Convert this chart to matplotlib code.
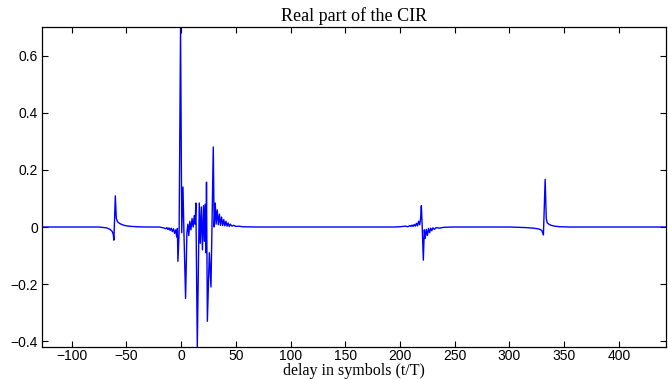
import numpy as np
import matplotlib
matplotlib.use('Agg')
import matplotlib.pyplot as plt

# vertices of the real part of the CIR (delay in symbols, value)
cir_delay = [-127, -75, -68, -65, -63, -62, -61.4, -60.1, -59.2, -58, -56, -53, -50, -45, -38, -30,
             -20, -16, -14, -13, -12, -11, -10, -9, -8, -7, -6, -5, -4, -3.4, -2.9, -1.8, -0.5,
             0.6, 1.7, 2.6, 4.1, 5.3, 6.2, 7.0, 8, 9, 10, 11, 12, 12.8, 13.5, 14.8, 16.6, 17.5,
             18.5, 19.5, 20.5, 21.3, 22, 22.8, 23.2, 24, 25.8, 27.3, 29.4, 30.2, 31.2, 32, 33,
             34, 35, 36, 37, 38, 39, 40, 41, 42, 43, 44, 45, 46.5, 48, 50, 53, 56, 60, 70,
             150, 195, 200, 205, 207, 209, 210, 211, 212, 213, 214, 215, 216, 217, 218, 218.8,
             219.5, 220.3, 221.3, 222.2, 223, 224, 225, 226, 227, 228, 229, 230, 231.5, 233,
             236, 240, 248,
             260, 300, 315, 322, 327, 329.5, 331, 332.6, 333.6, 334.5, 336, 338, 341, 346, 355, 443]
cir_real = [0, 0, -0.003, -0.008, -0.015, -0.025, -0.046, 0.109, 0.03, 0.018, 0.012, 0.007, 0.004, 0.002, 0.0005, 0,
            0, -0.003, -0.006, -0.002, -0.009, -0.003, -0.012, -0.004, -0.016, -0.006, -0.022, -0.01, -0.035, -0.005, -0.12, -0.02, 0.70,
            -0.02, 0.14, -0.02, -0.25, -0.02, 0.01, -0.03, 0.02, -0.01, 0.03, 0.0, 0.04, 0.01, 0.084, -0.42, 0.084, -0.057,
            0.07, -0.08, 0.075, -0.05, 0.08, -0.09, 0.157, -0.33, -0.09, -0.21, 0.28, 0.0, 0.084, 0.01, 0.06,
            0.008, 0.045, 0.006, 0.035, 0.005, 0.026, 0.004, 0.02, 0.003, 0.014, 0.002, 0.01, 0.003, 0.006, 0.002, 0.003, 0.001, 0.0005, 0,
            0, 0, 0.001, 0.003, 0.001, 0.005, 0.002, 0.007, 0.002, 0.009, 0.003, 0.013, 0.004, 0.02, 0.008, 0.03,
            0.075, 0.0, -0.116, -0.01, -0.04, -0.008, -0.03, -0.005, -0.02, -0.004, -0.013, -0.003, -0.008, -0.002,
            -0.004, -0.001, 0,
            0, 0, -0.002, -0.004, -0.007, -0.012, -0.028, 0.167, 0.03, 0.015, 0.01, 0.006, 0.003, 0.001, 0, 0]

x_ticks = [-100, -50, 0, 50, 100, 150, 200, 250, 300, 350, 400]
y_ticks = [-0.4, -0.2, 0, 0.2, 0.4, 0.6]
y_ticklabels = ['\u22120.4', '\u22120.2', '0', '0.2', '0.4', '0.6']

fig = plt.figure(figsize=(6.68, 3.79), dpi=100)
ax = fig.add_axes([0.063, 0.0844, 0.934, 0.8443])

ax.plot(np.array(cir_delay), np.array(cir_real), color='#0000ff', linewidth=1.0)

ax.set_xlim(-127, 443)
ax.set_ylim(-0.42, 0.70)
ax.set_xticks(x_ticks)
ax.set_yticks(y_ticks)
ax.set_yticklabels(y_ticklabels)
ax.tick_params(direction='in', top=True, right=True, length=4, width=0.8,
               labelsize=10, pad=3)
ax.tick_params(axis='x', pad=1.5)
for lab in ax.get_xticklabels() + ax.get_yticklabels():
    lab.set_family('Liberation Sans')
for s in ax.spines.values():
    s.set_linewidth(0.9)

ax.set_title('Real part of the CIR', family='Liberation Serif', fontsize=13, pad=4)
ax.set_xlabel('delay in symbols (t/T)', family='Liberation Serif', fontsize=11.5, labelpad=0)

fig.savefig('out.png', dpi=100)
